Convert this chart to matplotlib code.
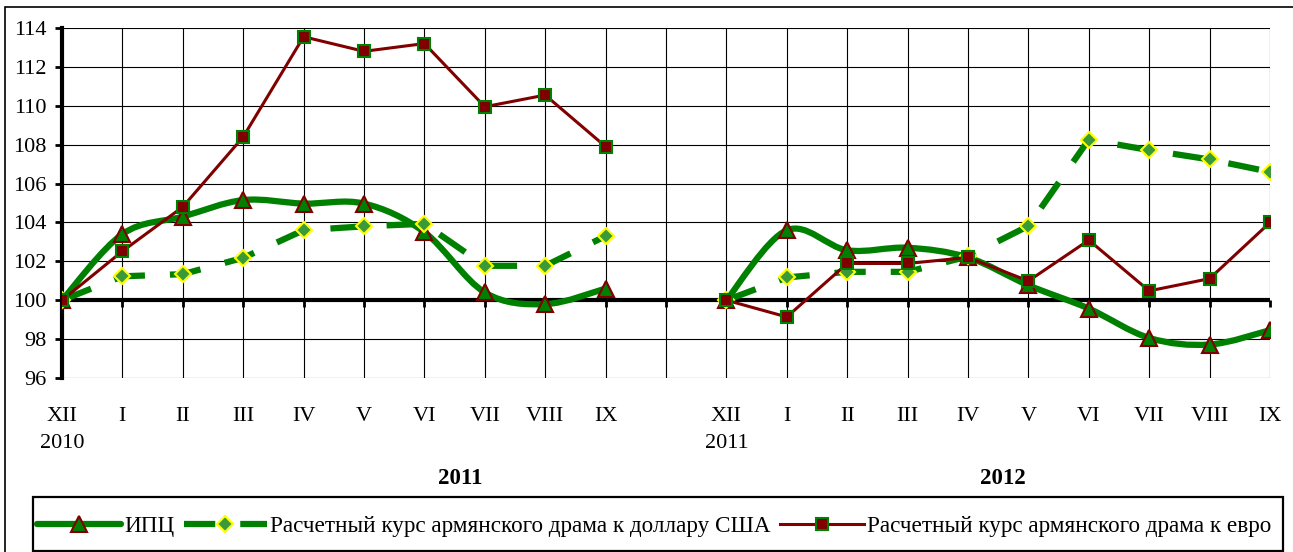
import numpy as np
import matplotlib
matplotlib.use('Agg')
import matplotlib.pyplot as plt
from matplotlib.path import Path
from matplotlib.patches import PathPatch, Rectangle
from matplotlib.lines import Line2D

# month labels, two periods (XII .. IX), one empty slot between them
months = ['XII', 'I', 'II', 'III', 'IV', 'V', 'VI', 'VII', 'VIII', 'IX']
start_years = ['2010', '2011']
period_titles = ['2011', '2012']

# index values, XII of previous year = 100
cpi_2011 = [100, 103.4, 104.3, 105.15, 104.97, 104.97, 103.5, 100.4, 99.8, 100.6]
cpi_2012 = [100, 103.6, 102.57, 102.7, 102.2, 100.77, 99.57, 98.06, 97.72, 98.46]
usd_2011 = [100, 101.23, 101.34, 102.18, 103.6, 103.8, 103.93, 101.77, 101.77, 103.3]
usd_2012 = [100, 101.17, 101.46, 101.46, 102.25, 103.82, 108.26, 107.72, 107.24, 106.6]
eur_2011 = [100, 102.52, 104.8, 108.4, 113.55, 112.8, 113.2, 109.95, 110.55, 107.9]
eur_2012 = [100, 99.14, 101.89, 101.89, 102.2, 100.99, 103.09, 100.48, 101.11, 104.0]

labels = ['ИПЦ',
          'Расчетный курс армянского драма к доллару США',
          'Расчетный курс армянского драма к евро']

GREEN = '#008000'
DRED = '#800000'

plt.rcParams['font.family'] = ['Liberation Serif', 'DejaVu Serif']
FS = 16

x1 = np.arange(len(months))
x2 = x1 + len(months) + 1
n_slots = 2 * len(months) + 1


def smooth_path(xs, ys):
    # bezier smoothing through the points (like excel "smoothed line")
    verts = [(xs[0], ys[0])]
    codes = [Path.MOVETO]
    n = len(xs)
    for i in range(n - 1):
        a = i - 1 if i > 0 else i
        d = i + 2 if i + 2 < n else i + 1
        c1 = (xs[i] + (xs[i + 1] - xs[a]) / 6, ys[i] + (ys[i + 1] - ys[a]) / 6)
        c2 = (xs[i + 1] - (xs[d] - xs[i]) / 6, ys[i + 1] - (ys[d] - ys[i]) / 6)
        verts += [c1, c2, (xs[i + 1], ys[i + 1])]
        codes += [Path.CURVE4] * 3
    return Path(verts, codes)


fig = plt.figure(figsize=(12.93, 5.52), dpi=100)
ax = fig.add_axes([62 / 1293, 1 - 378 / 552, 1208 / 1293, 350 / 552])
ax.set_xlim(0, n_slots - 1)
ax.set_ylim(96, 114)

# grid
ax.set_yticks(np.arange(96, 115, 2))
ax.set_xticks(np.arange(n_slots))
ax.grid(True, color='black', linewidth=0.8)
ax.set_axisbelow(True)
for s in ['top', 'right', 'bottom']:
    ax.spines[s].set_visible(False)
ax.spines['left'].set_linewidth(3)

xt = []
for k in range(2):
    xt += [months[0] + '\n' + start_years[k]] + months[1:]
    if k == 0:
        xt.append('')
ax.set_xticklabels(xt, fontsize=FS)
for lab in ax.get_xticklabels():
    lab.set_linespacing(1.55)
ax.tick_params(axis='x', length=0, pad=21)
ax.tick_params(axis='y', direction='out', length=5, width=2, labelsize=FS, pad=6)

# base line at 100 with tick marks
ax.axhline(100, color='black', linewidth=3, zorder=2)
sec = ax.secondary_xaxis((100 - 96) / 18)
sec.set_xticks(np.arange(n_slots))
sec.tick_params(direction='out', length=5, width=2, labelbottom=False, labeltop=False)
sec.spines['bottom'].set_visible(False)
sec.spines['top'].set_visible(False)

# CPI - smoothed thick green line with triangles
for xs, ys in [(x1, cpi_2011), (x2, cpi_2012)]:
    ax.add_patch(PathPatch(smooth_path(xs, ys), facecolor='none', edgecolor=GREEN,
                           linewidth=4.5, capstyle='round', joinstyle='round', zorder=3))
    ax.plot(xs, ys, linestyle='none', marker='^', markersize=11, markerfacecolor=GREEN,
            markeredgecolor=DRED, markeredgewidth=1.5, zorder=4)

# USD - dashed green line with diamonds
for xs, ys in [(x1, usd_2011), (x2, usd_2012)]:
    ax.plot(xs, ys, color=GREEN, linewidth=4.5, dashes=(5, 4), marker='D', markersize=8,
            markerfacecolor='#3a9a3a', markeredgecolor='yellow', markeredgewidth=1.5,
            zorder=5)

# EUR - dark red line with squares
for xs, ys in [(x1, eur_2011), (x2, eur_2012)]:
    ax.plot(xs, ys, color=DRED, linewidth=2.2, marker='s', markersize=9,
            markerfacecolor=DRED, markeredgecolor=GREEN, markeredgewidth=1.5, zorder=6)

# period titles
fig.text(460 / 1293, 1 - 478 / 552, period_titles[0], fontsize=FS + 0.5, fontweight='bold',
         ha='center', va='center')
fig.text(1003 / 1293, 1 - 478 / 552, period_titles[1], fontsize=FS + 0.5, fontweight='bold',
         ha='center', va='center')

# legend (frame drawn separately)
h_cpi = Line2D([], [], color=GREEN, linewidth=4.5, solid_capstyle='round', marker='^',
               markersize=11, markerfacecolor=GREEN, markeredgecolor=DRED, markeredgewidth=1.5)
h_usd = Line2D([], [], color=GREEN, linewidth=4.5, dashes=(5, 4), marker='D', markersize=8,
               markerfacecolor='#3a9a3a', markeredgecolor='yellow', markeredgewidth=1.5)
h_eur = Line2D([], [], color=DRED, linewidth=2.2, marker='s', markersize=9,
               markerfacecolor=DRED, markeredgecolor=GREEN, markeredgewidth=1.5)
fig.legend([h_cpi, h_usd, h_eur], labels, loc='center left', ncol=3,
           bbox_to_anchor=(37 / 1293, 1 - 526 / 552),
           fontsize=16.7, frameon=False, handlelength=3.6, handletextpad=0.15,
           columnspacing=0.4, borderaxespad=0, borderpad=0)
fig.patches.append(Rectangle((33 / 1293, 1 / 552), 1250 / 1293, 54 / 552,
                             transform=fig.transFigure, fill=False, edgecolor='black',
                             linewidth=1.6))

# outer frame of the chart area
fig.patches.append(Rectangle((5 / 1293, -0.1), 1.2, 1.1 - 7 / 552, transform=fig.transFigure,
                             fill=False, edgecolor='black', linewidth=1.2))

fig.savefig('out.png', dpi=100)
